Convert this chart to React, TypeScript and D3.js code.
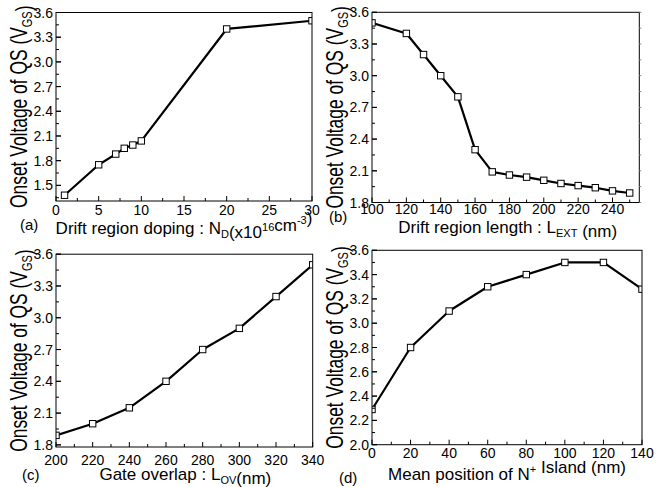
import React from "react";
import * as d3 from "d3";

// (a) drift region doping
const dopingX = [1, 5, 7, 8, 9, 10, 20, 30];
const dopingY = [1.38, 1.75, 1.88, 1.95, 1.99, 2.04, 3.4, 3.5];
// (b) drift region length
const lengthX = [100, 120, 130, 140, 150, 160, 170, 180, 190, 200, 210, 220, 230, 240, 250];
const lengthY = [3.5, 3.4, 3.2, 3.0, 2.8, 2.3, 2.09, 2.06, 2.04, 2.01, 1.98, 1.96, 1.94, 1.91, 1.89];
// (c) gate overlap
const overlapX = [200, 220, 240, 260, 280, 300, 320, 340];
const overlapY = [1.89, 2.0, 2.15, 2.4, 2.7, 2.9, 3.2, 3.5];
// (d) mean position of N+ island
const positionX = [0, 20, 40, 60, 80, 100, 120, 140];
const positionY = [2.29, 2.8, 3.1, 3.3, 3.4, 3.5, 3.5, 3.28];

const FONT = "'Liberation Sans', Arial, sans-serif";

type Panel = {
  id: string;
  tag: string;
  xs: number[];
  ys: number[];
  box: [number, number, number, number]; // left, top, right, bottom
  xDomain: [number, number];
  yDomain: [number, number];
  xTicks: number[];
  xMinor: number[];
  yTicks: number[];
  yMinor: number[];
  tickBase: number;
  titleBase: number;
  titleShift: number;
  tagPos: [number, number];
  title: React.ReactNode;
  rightTicks?: boolean;
};

const range = (a: number, b: number, s: number) => d3.range(a, b + s / 2, s).map((v) => +v.toFixed(3));

const sub = (t: string) => (
  <>
    <tspan dy={4} fontSize={11}>{t}</tspan>
    <tspan dy={-4}></tspan>
  </>
);
const sup = (t: string) => (
  <>
    <tspan dy={-7} fontSize={11}>{t}</tspan>
    <tspan dy={7}></tspan>
  </>
);

const panels: Panel[] = [
  {
    id: "a", tag: "(a)", xs: dopingX, ys: dopingY,
    box: [56, 12.5, 312, 201], xDomain: [0, 30], yDomain: [1.31, 3.6],
    xTicks: range(0, 30, 5), xMinor: range(0, 30, 2.5),
    yTicks: range(1.5, 3.6, 0.3), yMinor: range(1.35, 3.6, 0.15),
    tickBase: 215, titleBase: 234, titleShift: 0, tagPos: [20, 230],
    title: <>Drift region doping : N{sub("D")}(x10{sup("16")}cm{sup("-3")})</>,
  },
  {
    id: "b", tag: "(b)", xs: lengthX, ys: lengthY,
    box: [372, 12.3, 639.3, 202.5], xDomain: [100, 255.6], yDomain: [1.8, 3.6],
    xTicks: range(100, 240, 20), xMinor: range(100, 250, 10),
    yTicks: range(1.8, 3.6, 0.3), yMinor: range(1.8, 3.6, 0.15),
    tickBase: 213.5, titleBase: 233, titleShift: 2, tagPos: [329, 222],
    title: <>Drift region length : L{sub("EXT")} (nm)</>,
    rightTicks: true,
  },
  {
    id: "c", tag: "(c)", xs: overlapX, ys: overlapY,
    box: [56, 254.2, 312.7, 447], xDomain: [200, 340], yDomain: [1.78, 3.6],
    xTicks: range(200, 340, 20), xMinor: range(200, 340, 10),
    yTicks: range(1.8, 3.6, 0.3), yMinor: range(1.8, 3.6, 0.15),
    tickBase: 465, titleBase: 479.5, titleShift: 1, tagPos: [22, 480],
    title: <>Gate overlap : L{sub("OV")}(nm)</>,
  },
  {
    id: "d", tag: "(d)", xs: positionX, ys: positionY,
    box: [372, 250.3, 642, 444.7], xDomain: [0, 140], yDomain: [2.0, 3.6],
    xTicks: range(0, 140, 20), xMinor: range(0, 140, 10),
    yTicks: range(2.0, 3.6, 0.2), yMinor: range(2.0, 3.6, 0.1),
    tickBase: 457.5, titleBase: 480, titleShift: 0, tagPos: [339, 483],
    title: <>Mean position of N{sup("+")} Island (nm)</>,
  },
];

function Chart({ p }: { p: Panel }) {
  const [l, t, r, b] = p.box;
  const x = d3.scaleLinear().domain(p.xDomain).range([l, r]);
  const y = d3.scaleLinear().domain(p.yDomain).range([b, t]);
  const pts = p.xs.map((v, i) => [x(v), y(p.ys[i])] as [number, number]);
  const line = d3.line()(pts) || "";
  const inY = (v: number) => v >= p.yDomain[0] - 1e-6 && v <= p.yDomain[1] + 1e-6;
  const cy = (t + b) / 2;
  const cx = (l + r) / 2 + p.titleShift;
  return (
    <g>
      <defs>
        <clipPath id={`clip-${p.id}`}>
          <rect x={l} y={t} width={r - l} height={b - t} />
        </clipPath>
      </defs>
      <g clipPath={`url(#clip-${p.id})`}>
        <path d={line} fill="none" stroke="#000" strokeWidth={2.2} strokeLinejoin="round" />
        {pts.map(([px, py], i) => (
          <rect key={i} x={px - 3.2} y={py - 3.2} width={6.4} height={6.4} fill="#fff" stroke="#000" strokeWidth={1} />
        ))}
      </g>
      <rect x={l} y={t} width={r - l} height={b - t} fill="none" stroke="#000" strokeWidth={1} />
      {p.xMinor.map((v) => (
        <line key={`xm${v}`} x1={x(v)} x2={x(v)} y1={b} y2={b - (p.xTicks.includes(v) ? 5 : 3)} stroke="#000" />
      ))}
      {p.yMinor.filter(inY).map((v) => (
        <line key={`ym${v}`} x1={l} x2={l + (p.yTicks.includes(v) ? 5 : 3)} y1={y(v)} y2={y(v)} stroke="#000" />
      ))}
      {p.yTicks.map((v) => (
        <line key={`yt${v}`} x1={l} x2={l + 5} y1={y(v)} y2={y(v)} stroke="#000" />
      ))}
      {p.rightTicks &&
        p.yMinor.map((v) => (
          <line key={`yr${v}`} x1={r} x2={r + 2} y1={y(v)} y2={y(v)} stroke="#888" />
        ))}
      {p.xTicks.map((v) => (
        <text key={`xl${v}`} x={x(v)} y={p.tickBase} textAnchor="middle" fontSize={14} fontFamily={FONT}>
          {v}
        </text>
      ))}
      {p.yTicks.map((v) => (
        <text key={`yl${v}`} x={l - 3} y={y(v) + 5} textAnchor="end" fontSize={14} fontFamily={FONT}>
          {v.toFixed(1)}
        </text>
      ))}
      <text x={cx} y={p.titleBase} textAnchor="middle" fontSize={17} fontFamily={FONT}>
        {p.title}
      </text>
      <text x={p.tagPos[0]} y={p.tagPos[1]} fontSize={15} fontFamily={FONT}>
        {p.tag}
      </text>
      <text
        transform={`translate(${l - 29},${cy}) rotate(-90) scale(1,1.35)`}
        textAnchor="middle"
        fontSize={17.4}
        fontFamily={FONT}
      >
        Onset Voltage of QS (V{sub("GS")})
      </text>
    </g>
  );
}

export default function App() {
  return (
    <svg
      width={656}
      height={487}
      style={{ position: "absolute", left: 0, top: 0, background: "#fff" }}
    >
      <rect width={656} height={487} fill="#fff" />
      {panels.map((p) => (
        <Chart key={p.id} p={p} />
      ))}
    </svg>
  );
}
